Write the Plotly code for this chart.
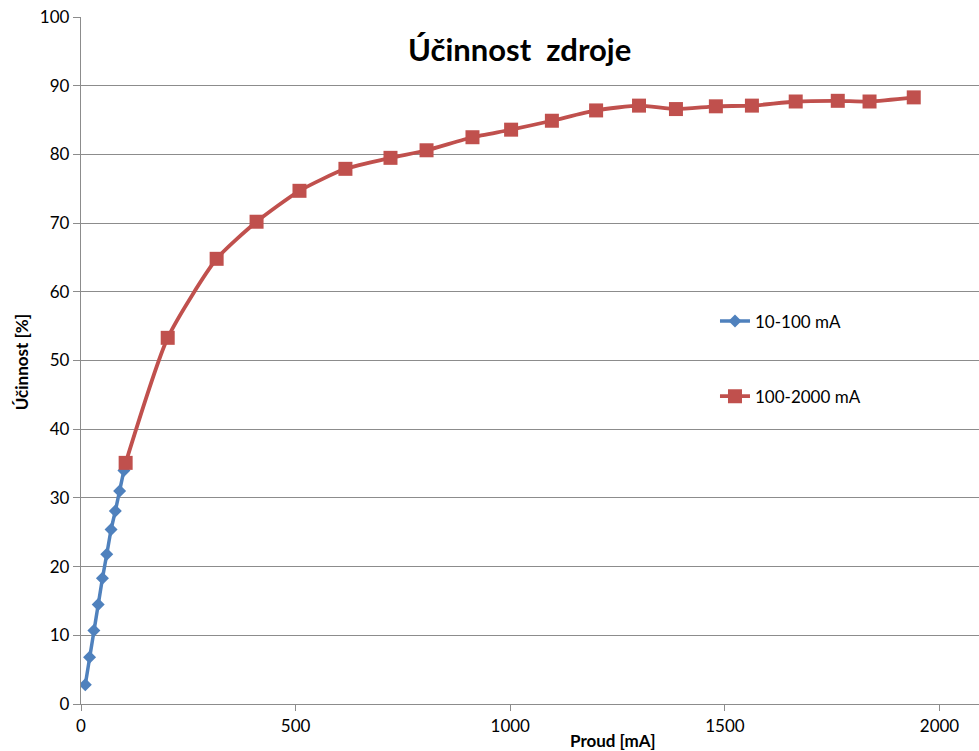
import plotly.graph_objects as go

# Data
blue_x = [10, 20, 30, 40, 50, 60, 70, 80, 90, 100]
blue_y = [2.8, 6.8, 10.7, 14.5, 18.3, 21.8, 25.4, 28.1, 31.0, 34.0]

red_x = [104, 202, 316, 409, 509, 616, 721, 805, 912, 1002, 1097, 1200, 1300,
         1386, 1479, 1563, 1665, 1763, 1837, 1940]
red_y = [35.1, 53.3, 64.8, 70.2, 74.7, 77.9, 79.5, 80.6, 82.5, 83.6, 84.9, 86.4,
         87.1, 86.6, 87.0, 87.1, 87.7, 87.8, 87.7, 88.3]

series_names = ["10-100 mA", "100-2000 mA"]
title_text = "Účinnost  zdroje"
x_title = "Proud [mA]"
y_title = "Účinnost [%]"

FONT = "Lato, 'Open Sans', sans-serif"
BLUE = "#4F81BD"
RED = "#C0504D"
GRID = "#8C8C8C"

fig = go.Figure()
fig.add_trace(go.Scatter(
    x=blue_x, y=blue_y, name=series_names[0], mode="lines+markers",
    line=dict(color=BLUE, width=3.5),
    marker=dict(symbol="diamond", size=10, color=BLUE),
    legendgroup="a",
))
fig.add_trace(go.Scatter(
    x=red_x, y=red_y, name=series_names[1], mode="lines+markers",
    line=dict(color=RED, width=3.8, shape="spline", smoothing=0.6),
    marker=dict(symbol="square", size=14, color=RED),
    legendgroup="b",
))

fig.update_layout(
    width=979, height=751,
    margin=dict(l=81, r=0, t=17, b=47),
    paper_bgcolor="white", plot_bgcolor="white",
    font=dict(family=FONT, size=17, color="#000000"),
    showlegend=True,
    legend=dict(x=0.706, y=0.583, xanchor="left", yanchor="top",
                bgcolor="rgba(0,0,0,0)", tracegroupgap=50,
                font=dict(size=17), itemwidth=30),
    xaxis=dict(range=[0, 2092], tickvals=[0, 500, 1000, 1500, 2000],
               showgrid=False, zeroline=False,
               showline=True, linecolor=GRID, linewidth=1.3,
               ticks="outside", ticklen=6, tickcolor=GRID,
               tickfont=dict(size=17)),
    yaxis=dict(range=[0, 100], dtick=10,
               showgrid=True, gridcolor=GRID, gridwidth=1,
               zeroline=False,
               showline=True, linecolor=GRID, linewidth=1.3,
               ticks="outside", ticklen=7, tickcolor=GRID,
               tickfont=dict(size=17)),
    annotations=[
        dict(text="<b>" + title_text + "</b>", x=0.488, y=0.953,
             xref="paper", yref="paper", showarrow=False,
             font=dict(size=31, family=FONT), xanchor="center", yanchor="middle"),
        dict(text="<b>" + x_title + "</b>", x=1240, y=-0.053,
             xref="x", yref="paper", showarrow=False,
             font=dict(size=17, family=FONT), xanchor="center", yanchor="middle"),
        dict(text="<b>" + y_title + "</b>", x=-0.066, y=0.497,
             xref="paper", yref="paper", showarrow=False, textangle=-90,
             font=dict(size=17, family=FONT), xanchor="center", yanchor="middle"),
    ],
)

fig.write_html("out.html")
